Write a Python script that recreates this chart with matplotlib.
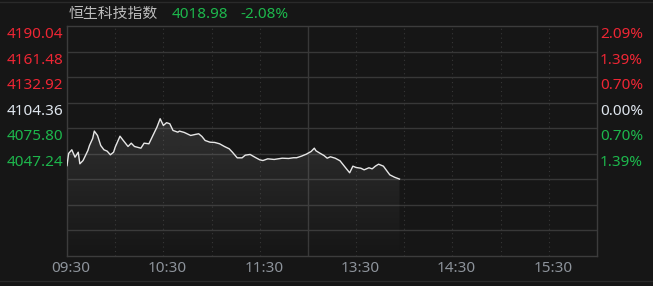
import numpy as np
import matplotlib
matplotlib.use('Agg')
import matplotlib.pyplot as plt
import matplotlib.transforms as mtransforms
from matplotlib.lines import Line2D

# ---- 数据 (分钟为开盘后的交易分钟数, 午休不计) ----
minutes = [0, 1, 3, 5, 7, 8, 10, 13, 14, 16, 17, 19, 21, 23, 25, 27, 29, 30, 33, 35,
           38, 40, 42, 46, 48, 51, 54, 56, 58, 60, 62, 64, 66, 69, 70, 73, 77, 80, 82, 84,
           86, 89, 92, 95, 98, 101, 103, 106, 109, 111, 114, 117, 120, 122, 125, 129, 134, 138, 141, 143,
           146, 149, 152, 154, 155, 157, 160, 162, 164, 167, 170, 172, 174, 176, 178, 180, 183, 185, 188, 190,
           192, 194, 197, 199, 201, 204, 207]
prices = [4034.0, 4047.6, 4051.7, 4043.4, 4049.0, 4036.0, 4039.7, 4050.9, 4056.5, 4064.4,
          4072.6, 4067.7, 4056.5, 4051.7, 4050.2, 4046.1, 4049.0, 4054.6, 4066.9, 4062.2,
          4055.4, 4059.1, 4055.4, 4053.5, 4059.1, 4058.4, 4069.6, 4077.0, 4086.4, 4078.9,
          4082.0, 4080.8, 4073.3, 4071.4, 4072.6, 4071.1, 4067.7, 4068.9, 4069.6, 4066.6,
          4062.1, 4060.2, 4059.9, 4058.4, 4055.4, 4052.8, 4049.0, 4042.7, 4042.7, 4045.7,
          4046.5, 4043.4, 4040.5, 4039.7, 4041.6, 4040.9, 4042.3, 4042.0, 4042.8, 4042.8,
          4044.6, 4046.8, 4049.8, 4053.5, 4050.6, 4048.4, 4045.3, 4042.3, 4043.9, 4042.3,
          4039.4, 4034.9, 4030.4, 4026.0, 4033.4, 4031.9, 4031.1, 4029.3, 4031.6, 4030.4,
          4033.4, 4035.6, 4033.4, 4028.5, 4023.7, 4021.0, 4018.98]

price_labels = ['4190.04', '4161.48', '4132.92', '4104.36', '4075.80', '4047.24']
pct_labels = ['2.09%', '1.39%', '0.70%', '0.00%', '0.70%', '1.39%']
time_labels = ['09:30', '10:30', '11:30', '13:30', '14:30', '15:30']
time_ticks = [0, 60, 120, 180, 240, 300]

title = '恒生科技指数'
last_price = '4018.98'
last_pct = '-2.08%'

# ---- 样式 ----
BG = '#161616'
GRID = '#383838'
RED = '#ee2634'
GREEN = '#1db74c'
WHITE = '#dfe6ee'
GREY = '#8d939b'
NUM_FONT = ['Noto Sans', 'DejaVu Sans']

plt.rcParams['font.family'] = ['Noto Sans CJK SC', 'DejaVu Sans']

top_val = 4190.04
step = 28.56
n_rows = 9
y_max = top_val
y_min = top_val - n_rows * step

fig = plt.figure(figsize=(6.53, 2.86), dpi=100, facecolor=BG)
ax = fig.add_axes([67 / 653, 30 / 286, 530 / 653, 230 / 286])
ax.set_facecolor(BG)
ax.set_xlim(0, 330)
ax.set_ylim(y_min, y_max)

for s in ax.spines.values():
    s.set_color('#3c3c3c')
    s.set_linewidth(1.0)
ax.set_xticks([])
ax.set_yticks([])

# 水平网格线
for i in range(1, n_rows):
    ax.axhline(top_val - i * step, color=GRID, lw=1.0, zorder=1)

# 竖向虚线 (每30分钟), 午休处实线
for m in range(30, 330, 30):
    if m == 150:
        ax.axvline(m, color=GRID, lw=1.0, zorder=1)
    else:
        ax.axvline(m, color='#363636', lw=0.8, ls=(0, (1, 3)), zorder=1)

# 渐变填充
x = np.array(minutes)
y = np.array(prices)
fill = ax.fill_between(x, y, y_min, color='none', lw=0)
grad = np.zeros((100, 1, 4))
grad[:, 0, :3] = 0.6
grad[:, 0, 3] = np.linspace(0.2, 0.0, 100)
img = ax.imshow(grad, aspect='auto', extent=[0, 330, y_min, max(prices)],
                origin='upper', zorder=2)
img.set_clip_path(fill.get_paths()[0], transform=ax.transData)

ax.plot(x, y, color='#e6e6e6', lw=1.0, zorder=3)

# 左右价格/涨跌幅标签
label_colors = [RED, RED, RED, WHITE, GREEN, GREEN]
for i, (pl, pc, c) in enumerate(zip(price_labels, pct_labels, label_colors)):
    yv = top_val - i * step
    pt = ax.transData.transform((0, yv))[1]
    fy = pt / fig.bbox.height - 1.0 / 286
    fig.text(63 / 653, fy, pl, color=c, fontsize=11, ha='right', va='top', family=NUM_FONT)
    fig.text(600 / 653, fy, pc, color=c, fontsize=11, ha='left', va='top', family=NUM_FONT)

# 时间刻度 (标签略微右移)
off = mtransforms.offset_copy(ax.transData, fig=fig, x=4, y=0, units='dots')
tick_tr = mtransforms.blended_transform_factory(off, fig.transFigure)
for t, lab in zip(time_ticks, time_labels):
    fig.text(t, 1 - 268 / 286, lab, color=GREY, fontsize=11, ha='center', va='center',
             transform=tick_tr, family=NUM_FONT)

# 标题
fig.text(69 / 653, 1 - 14 / 286, title, color='#bdbdbd', fontsize=10.7, ha='left', va='center')
fig.text(172 / 653, 1 - 14 / 286, last_price, color=GREEN, fontsize=11, ha='left', va='center', family=NUM_FONT)
fig.text(240 / 653, 1 - 14 / 286, last_pct, color=GREEN, fontsize=11, ha='left', va='center', family=NUM_FONT)

# 顶部/底部分隔线
fig.add_artist(Line2D([0, 1], [1 - 2 / 286, 1 - 2 / 286], color='#2a2a2a', lw=1, transform=fig.transFigure))
fig.add_artist(Line2D([0, 1], [1 - 281 / 286, 1 - 281 / 286], color='#2a2a2a', lw=1, transform=fig.transFigure))

fig.savefig('out.png', dpi=100, facecolor=BG)
